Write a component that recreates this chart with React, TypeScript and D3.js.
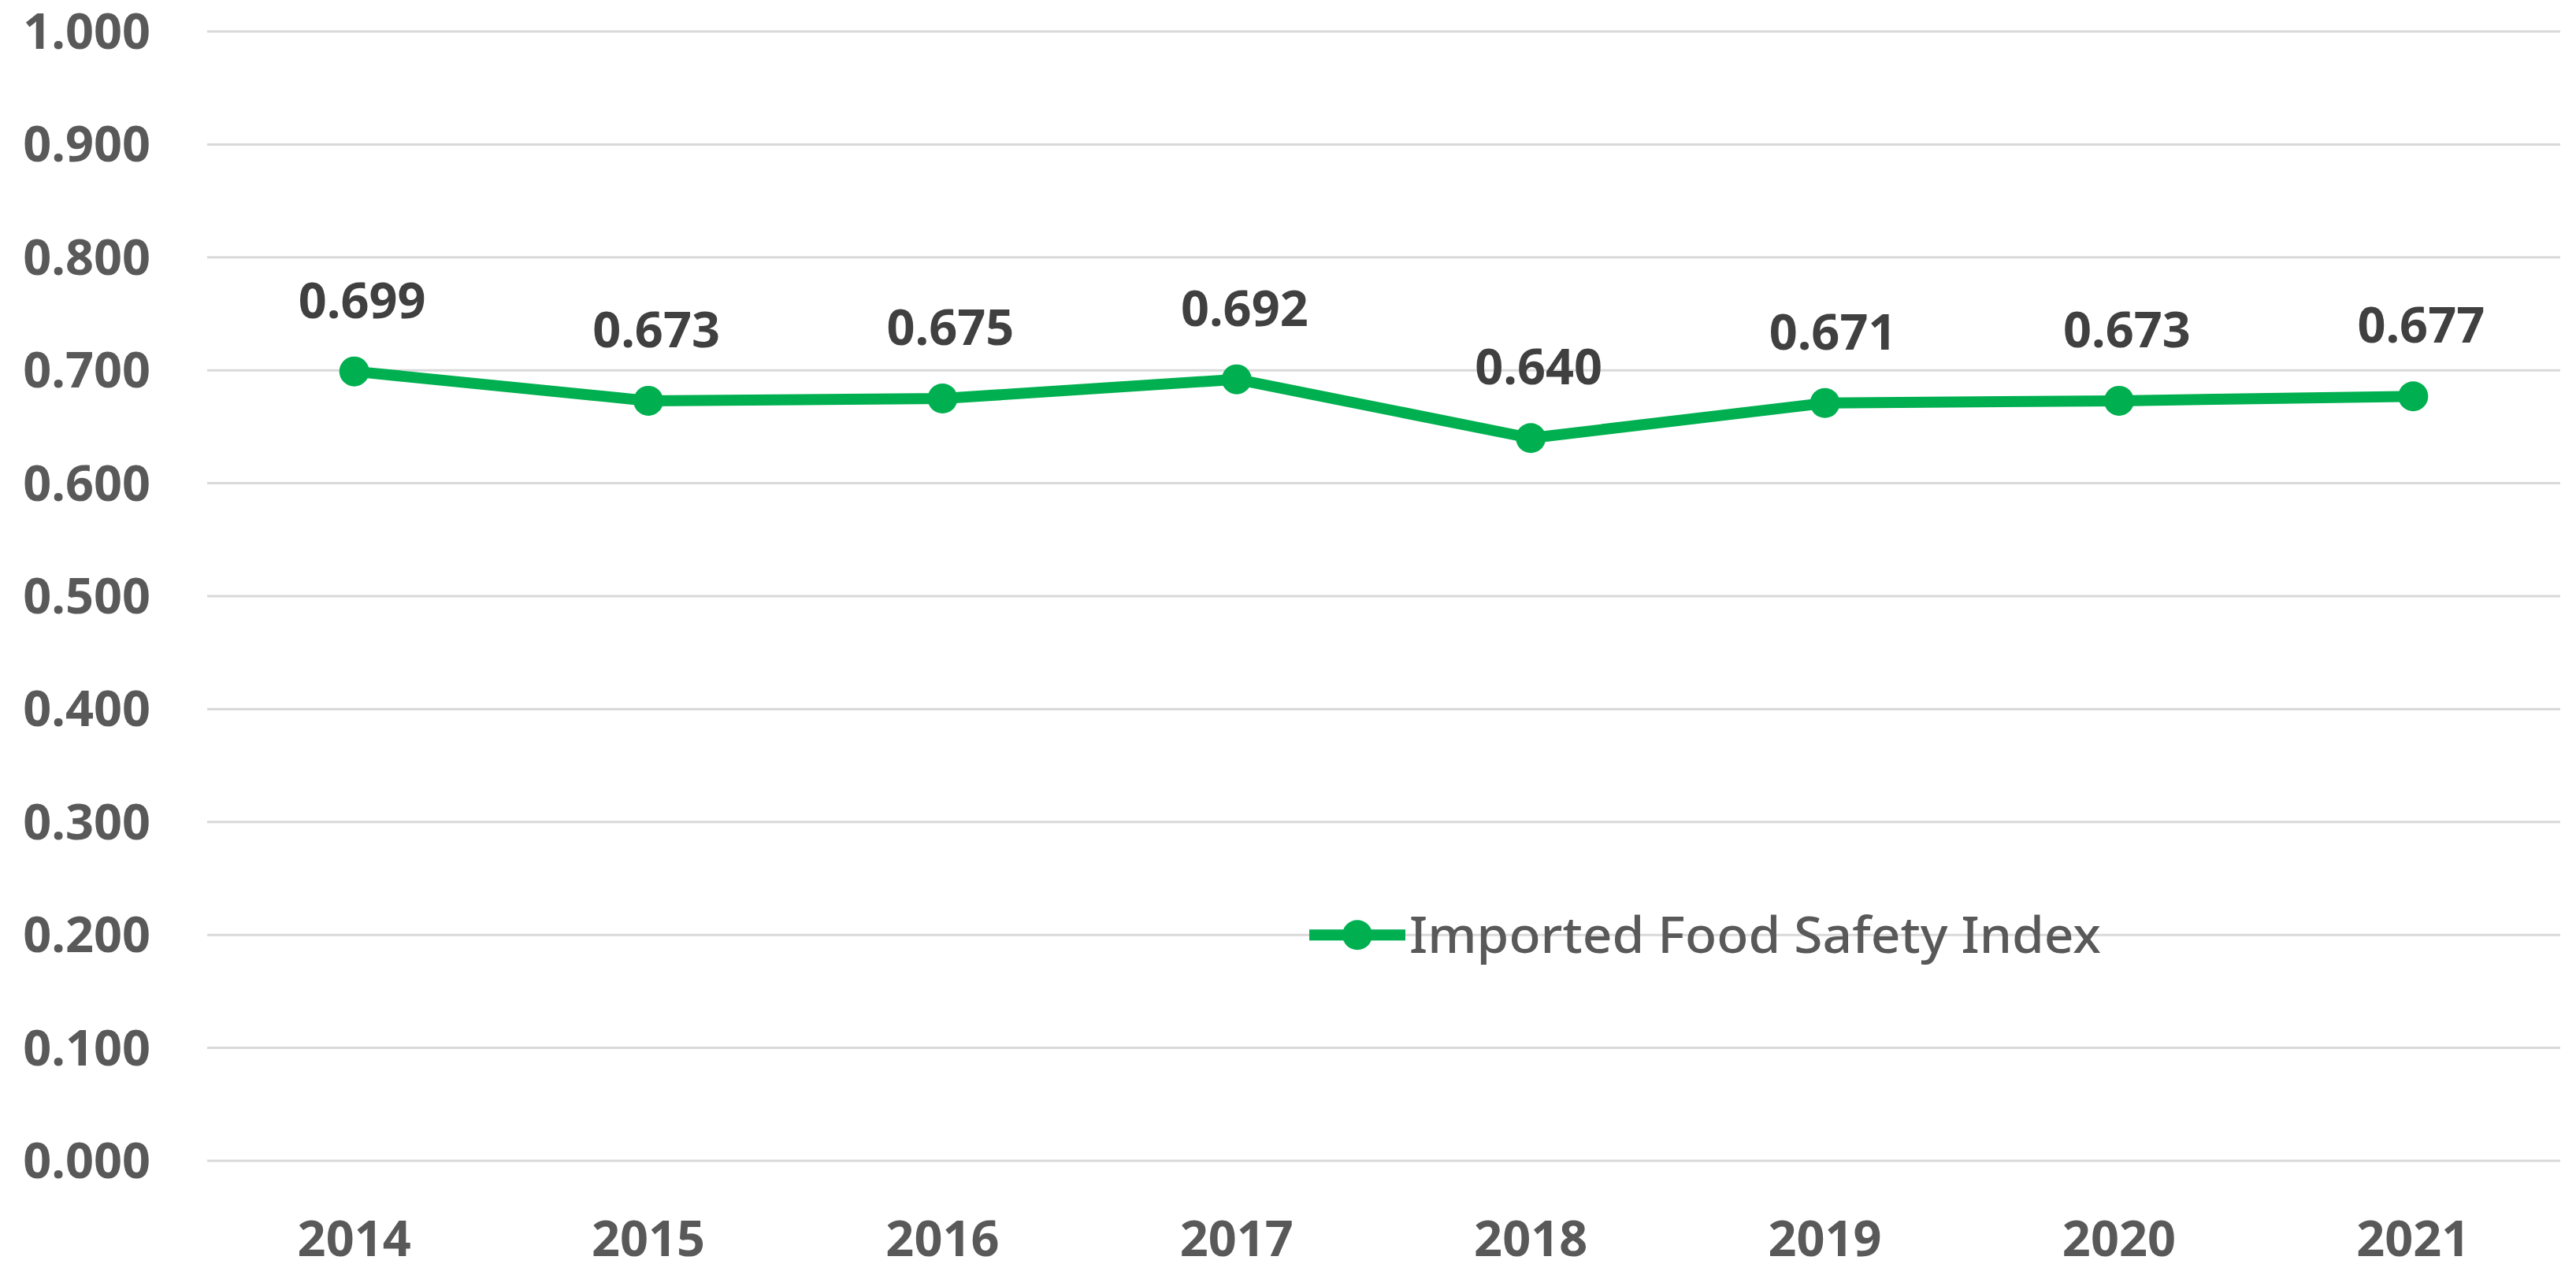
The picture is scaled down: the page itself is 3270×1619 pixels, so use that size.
import React from "react";
import * as d3 from "d3";

const years = ["2014", "2015", "2016", "2017", "2018", "2019", "2020", "2021"];
const safetyIndex = [0.699, 0.673, 0.675, 0.692, 0.64, 0.671, 0.673, 0.677];
const yTicks = [0, 0.1, 0.2, 0.3, 0.4, 0.5, 0.6, 0.7, 0.8, 0.9, 1.0];
const seriesName = "Imported Food Safety Index";

const W = 3270;
const H = 1619;
const GREEN = "#00B050";
const FONT = "'Noto Sans', 'DejaVu Sans', sans-serif";

export default function App() {
  const x = d3.scalePoint<string>().domain(years).range([263, 3250]).padding(0.5);
  const y = d3.scaleLinear().domain([0, 1]).range([1474, 40]);

  const line = d3
    .line<number>()
    .x((_, i) => x(years[i])!)
    .y((d) => y(d));

  const fmt = d3.format(".3f");

  return (
    <svg
      width={W}
      height={H}
      style={{ position: "absolute", left: 0, top: 0, background: "#fff" }}
    >
      <rect width={W} height={H} fill="#fff" />

      {/* gridlines + y labels */}
      {yTicks.map((t) => (
        <g key={t}>
          <line
            x1={x.range()[0]}
            x2={x.range()[1]}
            y1={y(t)}
            y2={y(t)}
            stroke="#d9d9d9"
            strokeWidth={3}
          />
          <text
            x={191}
            y={y(t)}
            dy="0.35em"
            textAnchor="end"
            fontFamily={FONT}
            fontWeight="bold"
            fontSize={63}
            fill="#595959"
          >
            {fmt(t)}
          </text>
        </g>
      ))}

      {/* x labels */}
      {years.map((yr) => (
        <text
          key={yr}
          x={x(yr)!}
          y={1595}
          textAnchor="middle"
          fontFamily={FONT}
          fontWeight="bold"
          fontSize={63}
          fill="#595959"
        >
          {yr}
        </text>
      ))}

      {/* series line */}
      <path
        d={line(safetyIndex)!}
        fill="none"
        stroke={GREEN}
        strokeWidth={14}
        strokeLinejoin="round"
      />
      {safetyIndex.map((v, i) => (
        <circle key={i} cx={x(years[i])!} cy={y(v)} r={19} fill={GREEN} />
      ))}

      {/* data labels */}
      {safetyIndex.map((v, i) => (
        <text
          key={"l" + i}
          x={x(years[i])! + 10}
          y={y(v) - 68}
          textAnchor="middle"
          fontFamily={FONT}
          fontWeight="bold"
          fontSize={63}
          fill="#404040"
        >
          {fmt(v)}
        </text>
      ))}

      {/* legend */}
      <g>
        <line
          x1={1662}
          x2={1784}
          y1={y(0.2)}
          y2={y(0.2)}
          stroke={GREEN}
          strokeWidth={14}
        />
        <circle cx={1723} cy={y(0.2)} r={19} fill={GREEN} />
        <text
          x={1789}
          y={y(0.2)}
          dy="0.36em"
          fontFamily={FONT}
          fontSize={64}
          fontWeight={500}
          fill="#595959"
          textLength={878}
          lengthAdjust="spacingAndGlyphs"
        >
          {seriesName}
        </text>
      </g>
    </svg>
  );
}
